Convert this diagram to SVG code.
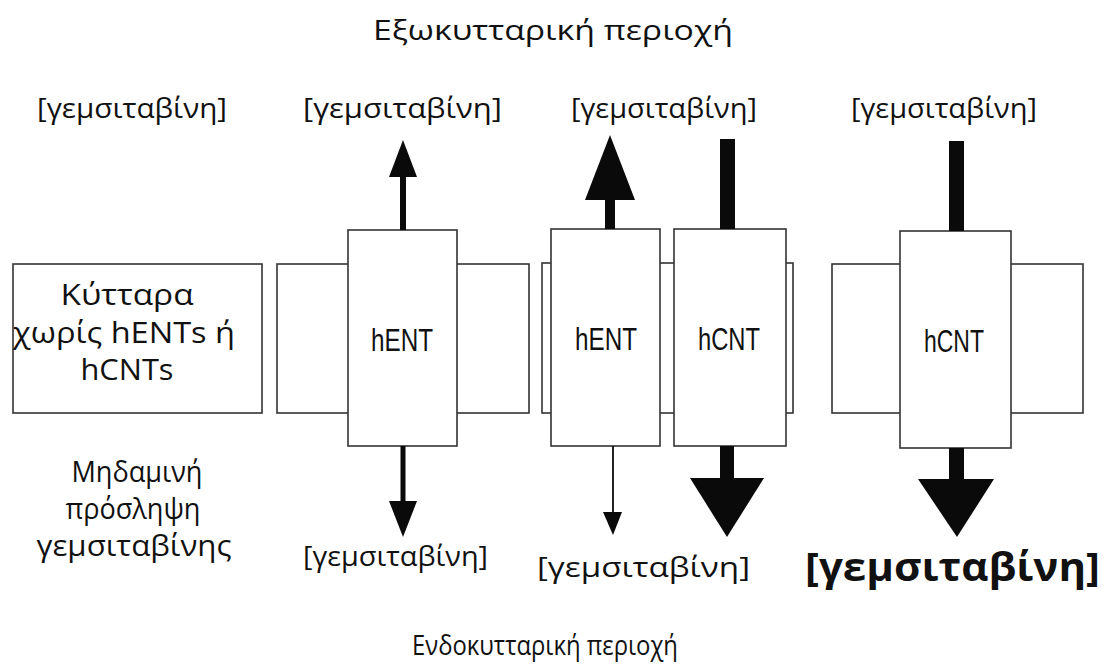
<svg xmlns="http://www.w3.org/2000/svg" width="1106" height="665" viewBox="0 0 1106 665">
  <style>
    .lbl { font-family: "Open Sans", "Noto Sans", sans-serif; font-size: 28px; fill: #111; }
    .cell { font-family: "Open Sans", "Noto Sans", sans-serif; font-size: 30px; fill: #111; text-anchor: middle; }
    .big { font-family: "Open Sans", "Noto Sans", sans-serif; font-size: 40px; font-weight: bold; fill: #111; }
    .tr { font-family: "Liberation Sans", Arial, sans-serif; font-size: 32px; fill: #111; text-anchor: middle; }
    .box { fill: #fff; stroke: #333; stroke-width: 1.6; }
    .ink { fill: #0a0a0a; stroke: none; }
    .thin { stroke: #0a0a0a; stroke-width: 1.8; fill: none; }
  </style>

  <!-- region captions -->
  <text class="lbl" x="373" y="40" textLength="360" lengthAdjust="spacingAndGlyphs">Εξωκυτταρική περιοχή</text>
  <text class="lbl" x="412" y="655" textLength="266" lengthAdjust="spacingAndGlyphs">Ενδοκυτταρική περιοχή</text>

  <!-- cell without transporters -->
  <g id="cell-none">
    <rect class="box" x="13" y="264" width="249" height="149"/>
    <text class="cell" x="127" y="305" textLength="133" lengthAdjust="spacingAndGlyphs">Κύτταρα</text>
    <text class="cell" x="124" y="343" textLength="222" lengthAdjust="spacingAndGlyphs">χωρίς hENTs ή</text>
    <text class="cell" x="127" y="380" textLength="93" lengthAdjust="spacingAndGlyphs">hCNTs</text>
    <text class="cell" x="137" y="482" font-size="27" textLength="131" lengthAdjust="spacingAndGlyphs">Μηδαμινή</text>
    <text class="cell" x="133" y="519" font-size="27" textLength="135" lengthAdjust="spacingAndGlyphs">πρόσληψη</text>
    <text class="cell" x="134" y="556" font-size="27" textLength="195" lengthAdjust="spacingAndGlyphs">γεμσιταβίνης</text>
    <text class="lbl" x="37" y="118" textLength="190" lengthAdjust="spacingAndGlyphs">[γεμσιταβίνη]</text>
  </g>

  <!-- cell with hENT -->
  <g id="cell-hent">
    <rect class="box" x="277" y="264" width="252" height="149"/>
    <rect class="box" x="348" y="230" width="109" height="216"/>
    <text class="tr" x="402" y="351" textLength="62" lengthAdjust="spacingAndGlyphs">hENT</text>
    <text class="lbl" x="303" y="118" textLength="199" lengthAdjust="spacingAndGlyphs">[γεμσιταβίνη]</text>
    <text class="lbl" x="303" y="566" textLength="185" lengthAdjust="spacingAndGlyphs">[γεμσιταβίνη]</text>
  </g>

  <!-- cell with hENT and hCNT -->
  <g id="cell-both">
    <rect class="box" x="542" y="263" width="251" height="150"/>
    <rect class="box" x="551" y="229" width="109" height="217"/>
    <rect class="box" x="674" y="229" width="112" height="217"/>
    <text class="tr" x="606" y="350" textLength="62" lengthAdjust="spacingAndGlyphs">hENT</text>
    <text class="tr" x="729" y="350" textLength="62" lengthAdjust="spacingAndGlyphs">hCNT</text>
    <text class="lbl" x="571" y="118" textLength="186" lengthAdjust="spacingAndGlyphs">[γεμσιταβίνη]</text>
    <text class="lbl" x="537" y="577" font-size="31" textLength="213" lengthAdjust="spacingAndGlyphs">[γεμσιταβίνη]</text>
  </g>

  <!-- cell with hCNT -->
  <g id="cell-hcnt">
    <rect class="box" x="832" y="264" width="251" height="149"/>
    <rect class="box" x="900" y="231" width="111" height="217"/>
    <text class="tr" x="954" y="352" textLength="60" lengthAdjust="spacingAndGlyphs">hCNT</text>
    <text class="lbl" x="851" y="118" textLength="186" lengthAdjust="spacingAndGlyphs">[γεμσιταβίνη]</text>
    <text class="big" x="805" y="581" textLength="295" lengthAdjust="spacingAndGlyphs">[γεμσιταβίνη]</text>
  </g>

  <!-- transport arrows -->
  <g id="connectors">
    <!-- hENT cell: efflux up, influx down -->
    <rect class="ink" x="400" y="176" width="6" height="54"/>
    <polygon class="ink" points="389,177 417,177 403,140"/>
    <rect class="ink" x="400.5" y="446" width="5" height="56"/>
    <polygon class="ink" points="389,501 417,501 403,537"/>

    <!-- combined cell -->
    <rect class="ink" x="605" y="199" width="10" height="30"/>
    <polygon class="ink" points="585,200 635,200 610,135"/>
    <rect class="ink" x="720" y="139" width="15" height="90"/>
    <line class="thin" x1="613" y1="446" x2="613" y2="513"/>
    <polygon class="ink" points="603,512 622,512 613,535"/>
    <rect class="ink" x="720" y="446" width="14" height="33"/>
    <polygon class="ink" points="690,478 764,478 727,537"/>

    <!-- hCNT cell -->
    <rect class="ink" x="949" y="141" width="15" height="90"/>
    <rect class="ink" x="949" y="448" width="15" height="32"/>
    <polygon class="ink" points="918,479 994,479 957,537"/>
  </g>
</svg>
